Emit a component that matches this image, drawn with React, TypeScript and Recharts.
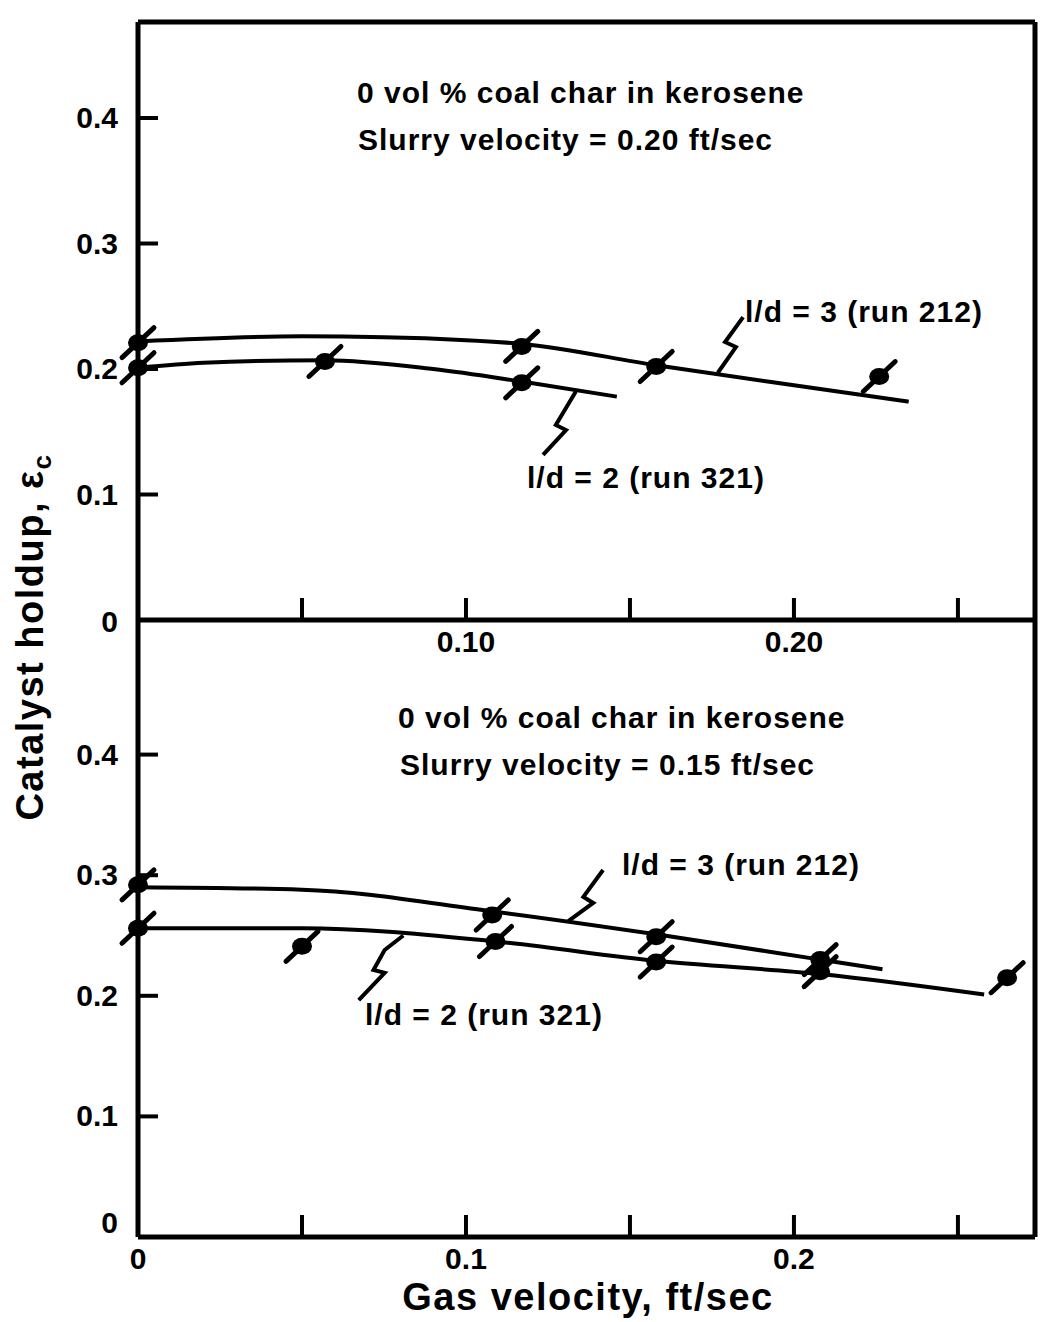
import React from 'react';
import { ComposedChart, Line, Scatter, XAxis, YAxis, ReferenceLine } from 'recharts';

// ---- data: upper panel (slurry velocity 0.20 ft/sec)
const topRun212Points = [
  { x: 0, y: 0.221 }, { x: 0.117, y: 0.218 }, { x: 0.158, y: 0.202 }, { x: 0.226, y: 0.194 },
];
const topRun212Curve = [
  { x: 0, y: 0.222 }, { x: 0.05, y: 0.226 }, { x: 0.1, y: 0.223 }, { x: 0.117, y: 0.22 },
  { x: 0.158, y: 0.203 }, { x: 0.2, y: 0.187 }, { x: 0.235, y: 0.174 },
];
const topRun321Points = [
  { x: 0, y: 0.201 }, { x: 0.057, y: 0.206 }, { x: 0.117, y: 0.189 },
];
const topRun321Curve = [
  { x: 0, y: 0.201 }, { x: 0.02, y: 0.205 }, { x: 0.057, y: 0.207 }, { x: 0.09, y: 0.2 },
  { x: 0.117, y: 0.19 }, { x: 0.146, y: 0.178 },
];
const topLeader212 = [
  { x: 0.1845, y: 0.2414 }, { x: 0.179, y: 0.2215 }, { x: 0.1823, y: 0.2175 }, { x: 0.1768, y: 0.197 },
];
const topLeader321 = [
  { x: 0.1335, y: 0.182 }, { x: 0.1274, y: 0.1554 }, { x: 0.1305, y: 0.1514 }, { x: 0.1235, y: 0.1315 },
];

// ---- data: lower panel (slurry velocity 0.15 ft/sec)
const botRun212Points = [
  { x: 0, y: 0.292 }, { x: 0.108, y: 0.267 }, { x: 0.158, y: 0.249 }, { x: 0.208, y: 0.23 },
];
const botRun212Curve = [
  { x: 0, y: 0.29 }, { x: 0.05, y: 0.288 }, { x: 0.108, y: 0.27 }, { x: 0.158, y: 0.251 },
  { x: 0.208, y: 0.23 }, { x: 0.227, y: 0.222 },
];
const botRun321Points = [
  { x: 0, y: 0.256 }, { x: 0.05, y: 0.241 }, { x: 0.109, y: 0.245 }, { x: 0.158, y: 0.228 },
  { x: 0.208, y: 0.22 }, { x: 0.265, y: 0.215 },
];
const botRun321Curve = [
  { x: 0, y: 0.256 }, { x: 0.05, y: 0.256 }, { x: 0.109, y: 0.245 }, { x: 0.158, y: 0.229 },
  { x: 0.208, y: 0.218 }, { x: 0.258, y: 0.201 },
];
const botLeader212 = [
  { x: 0.1418, y: 0.3043 }, { x: 0.1358, y: 0.282 }, { x: 0.1388, y: 0.277 }, { x: 0.1312, y: 0.262 },
];
const botLeader321 = [
  { x: 0.0809, y: 0.25 }, { x: 0.0752, y: 0.238 }, { x: 0.0718, y: 0.2214 }, { x: 0.0752, y: 0.219 }, { x: 0.0673, y: 0.1965 },
];

// ---- ticks
const xTicks = [0, 0.05, 0.1, 0.15, 0.2, 0.25];
const topXLabels: Record<string, string> = { '0.1': '0.10', '0.2': '0.20' };
const botXLabels: Record<string, string> = { '0': '0', '0.1': '0.1', '0.2': '0.2' };
const yTicks = [0, 0.1, 0.2, 0.3, 0.4];
const yLabels: Record<string, string> = { '0': '0', '0.1': '0.1', '0.2': '0.2', '0.3': '0.3', '0.4': '0.4' };

// ---- layout
const W = 1050;
const H = 1322;
const PL = 138;
const PR = 1035;
const PT = 22;
const PM = 620;
const PB = 1237;
const X_DOMAIN: [number, number] = [0, 0.2735];
const TOP_Y_DOMAIN: [number, number] = [0, 0.4765];
const BOT_Y_DOMAIN: [number, number] = [0, 0.5116];
const FONT = '"Liberation Sans", Arial, sans-serif';

const fmt = (v: number) => String(Math.round(v * 100) / 100);

const makeYTick = (zeroDy: number) => (props: any) => {
  const { y, payload } = props;
  const label = yLabels[fmt(payload.value)];
  return (
    <g>
      {payload.value !== 0 && (
        <line x1={PL} x2={PL + 20} y1={y} y2={y} stroke="#000" strokeWidth={4} />
      )}
      <text x={PL - 20} y={y} dy={payload.value === 0 ? zeroDy : 10} textAnchor="end" fontFamily={FONT}
        fontWeight="bold" fontSize={30} fill="#000">{label}</text>
    </g>
  );
};

const makeXTick = (axisY: number, labels: Record<string, string>, labelDy: number) => (props: any) => {
  const { x, payload } = props;
  const label = labels[fmt(payload.value)];
  return (
    <g>
      {payload.value !== 0 && (
        <line x1={x} x2={x} y1={axisY} y2={axisY - 22} stroke="#000" strokeWidth={4} />
      )}
      {label && (
        <text x={x} y={axisY + labelDy} textAnchor="middle" fontFamily={FONT}
          fontWeight="bold" fontSize={30} fill="#000">{label}</text>
      )}
    </g>
  );
};

const Marker = (props: any) => {
  const { cx, cy } = props;
  if (cx == null || cy == null) return <g />;
  return (
    <g>
      <line x1={cx - 16} y1={cy + 15} x2={cx + 16} y2={cy - 15} stroke="#000" strokeWidth={5} strokeLinecap="round" />
      <ellipse cx={cx} cy={cy} rx={10} ry={8.5} fill="#000" />
    </g>
  );
};

const NoShape = () => <g />;

const axisLine = { stroke: '#000', strokeWidth: 5 };

const curveLine = (data: any[], key: string) => (
  <Line key={key} data={data} dataKey="y" type="monotone" dot={false} stroke="#000"
    strokeWidth={4} isAnimationActive={false} activeDot={false} />
);
const leader = (data: any[], key: string) => (
  <Scatter key={key} data={data} line={{ stroke: '#000', strokeWidth: 4 }} shape={NoShape}
    isAnimationActive={false} />
);
const points = (data: any[], key: string) => (
  <Scatter key={key} data={data} shape={Marker} isAnimationActive={false} />
);

const textStyle: React.CSSProperties = {
  position: 'absolute', fontFamily: FONT, fontWeight: 'bold', fontSize: 30,
  lineHeight: '30px', letterSpacing: 1, whiteSpace: 'nowrap', color: '#000',
};

export default function App() {
  return (
    <div style={{ position: 'absolute', left: 0, top: 0, width: W, height: H, background: '#fff' }}>
      <div style={{ position: 'absolute', left: 0, top: 0 }}>
        <ComposedChart width={W} height={H} margin={{ top: PT, right: W - PR, bottom: 0, left: 0 }}>
          <XAxis dataKey="x" type="number" domain={X_DOMAIN} ticks={xTicks}
            height={H - PM} axisLine={axisLine} tickLine={false}
            tick={makeXTick(PM, topXLabels, 32)} interval={0} />
          <YAxis dataKey="y" type="number" domain={TOP_Y_DOMAIN} ticks={yTicks}
            width={PL} axisLine={axisLine} tickLine={false} tick={makeYTick(12)} interval={0} />
          <ReferenceLine y={TOP_Y_DOMAIN[1]} stroke="#000" strokeWidth={5} ifOverflow="visible" />
          <ReferenceLine x={X_DOMAIN[1]} stroke="#000" strokeWidth={5} ifOverflow="visible" />
          {curveLine(topRun212Curve, 'c1')}
          {curveLine(topRun321Curve, 'c2')}
          {leader(topLeader212, 'l1')}
          {leader(topLeader321, 'l2')}
          {points(topRun212Points, 'p1')}
          {points(topRun321Points, 'p2')}
        </ComposedChart>
      </div>
      <div style={{ position: 'absolute', left: 0, top: 0 }}>
        <ComposedChart width={W} height={H} margin={{ top: PM, right: W - PR, bottom: 0, left: 0 }}>
          <XAxis dataKey="x" type="number" domain={X_DOMAIN} ticks={xTicks}
            height={H - PB} axisLine={axisLine} tickLine={false}
            tick={makeXTick(PB, botXLabels, 32)} interval={0} />
          <YAxis dataKey="y" type="number" domain={BOT_Y_DOMAIN} ticks={yTicks}
            width={PL} axisLine={axisLine} tickLine={false} tick={makeYTick(-4)} interval={0} />
          <ReferenceLine x={X_DOMAIN[1]} stroke="#000" strokeWidth={5} ifOverflow="visible" />
          {curveLine(botRun212Curve, 'c3')}
          {curveLine(botRun321Curve, 'c4')}
          {leader(botLeader212, 'l3')}
          {leader(botLeader321, 'l4')}
          {points(botRun212Points, 'p3')}
          {points(botRun321Points, 'p4')}
        </ComposedChart>
      </div>

      <div style={{ ...textStyle, left: 357, top: 78 }}>0 vol % coal char in kerosene</div>
      <div style={{ ...textStyle, left: 358, top: 125 }}>Slurry velocity = 0.20 ft/sec</div>
      <div style={{ ...textStyle, left: 745, top: 297 }}>l/d = 3 (run 212)</div>
      <div style={{ ...textStyle, left: 527, top: 463 }}>l/d = 2 (run 321)</div>

      <div style={{ ...textStyle, left: 398, top: 703 }}>0 vol % coal char in kerosene</div>
      <div style={{ ...textStyle, left: 400, top: 750 }}>Slurry velocity = 0.15 ft/sec</div>
      <div style={{ ...textStyle, left: 622, top: 850 }}>l/d = 3 (run 212)</div>
      <div style={{ ...textStyle, left: 365, top: 1000 }}>l/d = 2 (run 321)</div>

      <div style={{ ...textStyle, fontSize: 38, lineHeight: '38px', letterSpacing: 1.5, left: 588, top: 1278, transform: 'translateX(-50%)' }}>
        Gas velocity, ft/sec
      </div>
      <div style={{ ...textStyle, fontSize: 38, lineHeight: '38px', letterSpacing: 1.5, left: 36, top: 637,
        transform: 'translate(-50%, -50%) rotate(-90deg)' }}>
        Catalyst holdup, ε<span style={{ fontSize: 26, verticalAlign: 'sub' }}>c</span>
      </div>
    </div>
  );
}
